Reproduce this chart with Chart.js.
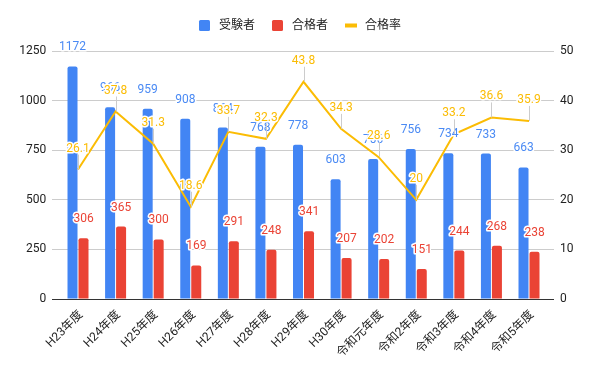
<!DOCTYPE html>
<html><head><meta charset="utf-8">
<script src="https://cdn.jsdelivr.net/npm/chart.js@4.4.1/dist/chart.umd.min.js"></script>
<style>html,body{margin:0;padding:0;background:#fff}</style>
</head><body>
<canvas id="c" width="600" height="371"></canvas>
<script>
const categories = ['H23年度','H24年度','H25年度','H26年度','H27年度','H28年度','H29年度','H30年度','令和元年度','令和2年度','令和3年度','令和4年度','令和5年度'];
const examinees = [1172, 966, 959, 908, 864, 768, 778, 603, 706, 756, 734, 733, 663];
const passers = [306, 365, 300, 169, 291, 248, 341, 207, 202, 151, 244, 268, 238];
const passRate = [26.1, 37.8, 31.3, 18.6, 33.7, 32.3, 43.8, 34.3, 28.6, 20, 33.2, 36.6, 35.9];
const leftTicks = [0, 250, 500, 750, 1000, 1250];
const rightTicks = [0, 10, 20, 30, 40, 50];
const seriesNames = ['受験者', '合格者', '合格率'];

const BLUE = '#4285F4', RED = '#EA4335', YELLOW = '#FBBC04';
const FONT = "Roboto, 'Noto Sans CJK JP', sans-serif";

const toXY = arr => arr.map((v, i) => ({x: i, y: v}));

const labelPlugin = {
  id: 'labels',
  afterDatasetsDraw(chart) {
    const ctx = chart.ctx;
    ctx.save();
    ctx.font = '12px ' + FONT;
    ctx.textAlign = 'center';
    ctx.textBaseline = 'middle';
    ctx.lineJoin = 'round';
    [0, 1, 2].forEach(di => {
      const meta = chart.getDatasetMeta(di);
      const ds = chart.data.datasets[di];
      const color = ds.labelColor;
      meta.data.forEach((el, i) => {
        const v = ds.data[i].y;
        const x = el.x;
        let y;
        if (di === 2) {
          y = el.y - 21;
          ctx.strokeStyle = '#cccccc';
          ctx.lineWidth = 1;
          ctx.beginPath();
          ctx.moveTo(Math.round(x) + 0.5, el.y);
          ctx.lineTo(Math.round(x) + 0.5, y + 6);
          ctx.stroke();
        } else {
          y = el.y - 19;
        }
        const t = String(v);
        ctx.strokeStyle = '#ffffff';
        ctx.lineWidth = 3;
        ctx.strokeText(t, x, y);
        ctx.fillStyle = color;
        ctx.fillText(t, x, y);
      });
    });
    ctx.restore();
  }
};

const xLabelPlugin = {
  id: 'xLabels',
  afterDraw(chart) {
    const ctx = chart.ctx;
    const sx = chart.scales.x;
    ctx.save();
    ctx.font = '12px ' + FONT;
    ctx.textAlign = 'right';
    ctx.textBaseline = 'middle';
    ctx.fillStyle = '#222222';
    categories.forEach((c, i) => {
      const x = sx.getPixelForValue(i) + 3;
      const y = chart.chartArea.bottom + 14;
      ctx.save();
      ctx.translate(x, y);
      ctx.rotate(-Math.PI / 4);
      ctx.fillText(c, 0, 0);
      ctx.restore();
    });
    ctx.restore();
  }
};

const legendPlugin = {
  id: 'customLegend',
  afterDraw(chart) {
    const ctx = chart.ctx;
    ctx.save();
    ctx.font = '12px ' + FONT;
    ctx.textBaseline = 'middle';
    ctx.textAlign = 'left';
    const box = 11, gap = 9, sep = 17;
    const items = chart.data.datasets.map(d => ({text: d.label, color: d.type === 'line' ? d.borderColor : d.backgroundColor, line: d.type === 'line'}));
    let total = 0;
    items.forEach((it, k) => { it.w = ctx.measureText(it.text).width; total += box + gap + it.w + (k < items.length - 1 ? sep : 0); });
    let x = 300 - total / 2;
    const cy = 25.5;
    items.forEach(it => {
      ctx.fillStyle = it.color;
      if (it.line) {
        ctx.fillRect(x, cy - 2, box + 1, 4);
      } else {
        ctx.beginPath();
        ctx.roundRect(x, cy - box / 2, box, box, 1.5);
        ctx.fill();
      }
      ctx.fillStyle = '#222222';
      ctx.fillText(it.text, x + box + gap, cy);
      x += box + gap + it.w + sep;
    });
    ctx.restore();
  }
};

new Chart(document.getElementById('c'), {
  data: {
    datasets: [
      {type: 'bar', label: seriesNames[0], data: toXY(examinees), backgroundColor: BLUE, labelColor: '#4a8af4', yAxisID: 'y', order: 2,
       barPercentage: 0.91, categoryPercentage: 0.585, borderRadius: {topLeft: 2, topRight: 2}, borderSkipped: 'start'},
      {type: 'bar', label: seriesNames[1], data: toXY(passers), backgroundColor: RED, labelColor: RED, yAxisID: 'y', order: 2,
       barPercentage: 0.91, categoryPercentage: 0.585, borderRadius: {topLeft: 2, topRight: 2}, borderSkipped: 'start'},
      {type: 'line', label: seriesNames[2], data: toXY(passRate), borderColor: YELLOW, backgroundColor: YELLOW, labelColor: YELLOW, yAxisID: 'y1', order: 1,
       borderWidth: 2, pointRadius: 0, tension: 0, fill: false}
    ]
  },
  options: {
    responsive: false,
    animation: false,
    devicePixelRatio: 1,
    layout: {padding: {top: 51, bottom: 0, left: 0, right: 0}},
    plugins: {legend: {display: false}, tooltip: {enabled: false}},
    scales: {
      x: {
        type: 'linear', min: -0.684, max: 12.665, offset: false,
        afterBuildTicks: s => { s.ticks = categories.map((_, i) => ({value: i})); },
        afterFit: s => { s.height = 72; s.paddingLeft = 0; s.paddingRight = 0; },
        grid: {display: false, drawTicks: false},
        border: {display: false},
        ticks: {display: false}
      },
      y: {
        position: 'left', min: 0, max: 1250,
        afterBuildTicks: s => { s.ticks = leftTicks.map(v => ({value: v})); },
        afterFit: s => { s.width = 52.3; },
        grid: {drawTicks: false, color: c => c.tick.value === 0 ? '#333333' : '#cccccc', lineWidth: 1},
        border: {display: false},
        ticks: {padding: 6, color: '#222222', font: {size: 12, family: FONT}, callback: v => String(v)}
      },
      y1: {
        position: 'right', min: 0, max: 50,
        afterBuildTicks: s => { s.ticks = rightTicks.map(v => ({value: v})); },
        afterFit: s => { s.width = 46; },
        grid: {display: false, drawTicks: false},
        border: {display: false},
        ticks: {padding: 6, color: '#222222', font: {size: 12, family: FONT}, callback: v => String(v)}
      }
    }
  },
  plugins: [labelPlugin, xLabelPlugin, legendPlugin]
});
</script>
</body></html>
